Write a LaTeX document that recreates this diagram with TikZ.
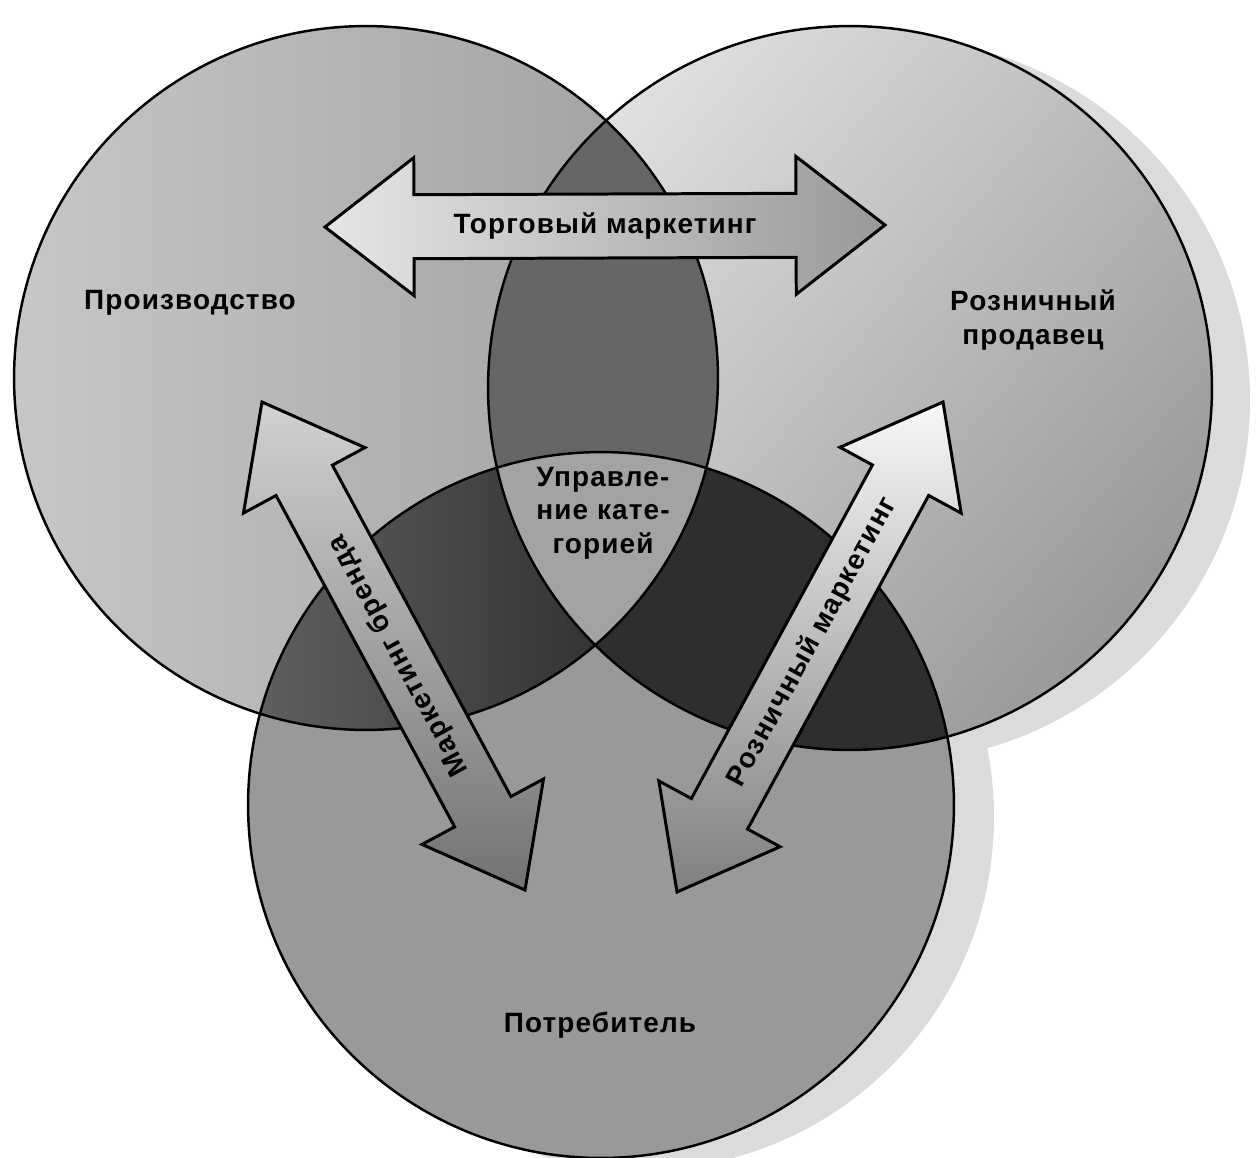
\documentclass[tikz,border=0pt]{standalone}
\usepackage{fontspec}
\setmainfont{Liberation Sans}
\newfontfamily\labfont{Liberation Sans}[LetterSpace=4]
\usetikzlibrary{calc}
\newcommand\blockarrow[3]{%
  \filldraw[#3] (#1)
    -- ($(#1)!1.78cm!(#2)!1.38cm!90:(#2)$)
    -- ($(#1)!1.78cm!(#2)!0.64cm!90:(#2)$)
    -- ($(#2)!1.78cm!(#1)!0.64cm!-90:(#1)$)
    -- ($(#2)!1.78cm!(#1)!1.38cm!-90:(#1)$)
    -- (#2)
    -- ($(#2)!1.78cm!(#1)!1.38cm!90:(#1)$)
    -- ($(#2)!1.78cm!(#1)!0.64cm!90:(#1)$)
    -- ($(#1)!1.78cm!(#2)!0.64cm!-90:(#2)$)
    -- ($(#1)!1.78cm!(#2)!1.38cm!-90:(#2)$)
    -- cycle;}
\tikzset{
  outline/.style={draw=black, line width=1.4pt},
  barrow/.style={draw=black, line width=1.7pt, line join=miter},
  lab/.style={font=\labfont\bfseries\fontsize{15.9}{19}\selectfont, text=black, inner sep=0pt, align=center},
  shadowc/.style={fill=black!14},
}
\begin{document}
\begin{tikzpicture}[x=0.02cm, y=-0.02cm]
\useasboundingbox[fill=white] (0,0) rectangle (1256,1157);
\coordinate (cL) at (366,378);
\coordinate (cR) at (850,388);
\coordinate (cB) at (601,805);
% soft shadows
\fill[shadowc] ($(cR)+(38,12)$) circle (7.24cm);
\fill[shadowc] ($(cB)+(40,12)$) circle (7.06cm);
% single regions
\shade[left color=black!22, right color=black!38] (cL) circle (7.04cm);
\shade[top color=black!12, bottom color=black!40, shading angle=50] (cR) circle (7.24cm);
\fill[black!40] (cB) circle (7.06cm);
% left & right lens
\begin{scope}
  \clip (cL) circle (7.04cm);
  \fill[black!60] (cR) circle (7.24cm);
\end{scope}
% left & bottom
\begin{scope}
  \clip (cL) circle (7.04cm);
  \clip (cB) circle (7.06cm);
  \fill[black!78] (cB) circle (7.06cm);
  \shade[left color=black!62, right color=black!80] (245,440) rectangle (600,760);
\end{scope}
% right & bottom
\begin{scope}
  \clip (cR) circle (7.24cm);
  \fill[black!82] (cB) circle (7.06cm);
\end{scope}
% triple
\begin{scope}
  \clip (cL) circle (7.04cm);
  \clip (cR) circle (7.24cm);
  \fill[black!36] (cB) circle (7.06cm);
\end{scope}
% outlines
\draw[outline] (cL) circle (7.04cm);
\draw[outline] (cR) circle (7.24cm);
\draw[outline] (cB) circle (7.06cm);
% arrows
\coordinate (tmA) at (325,227);
\coordinate (tmB) at (885,225);
\coordinate (lbA) at (262,402);
\coordinate (lbB) at (525,890);
\coordinate (rmA) at (943,402);
\coordinate (rmB) at (677,892);
\blockarrow{tmA}{tmB}{barrow, left color=black!10, middle color=black!24, right color=black!40}
\blockarrow{lbA}{lbB}{barrow, top color=black!18, middle color=black!28, bottom color=black!55}
\blockarrow{rmA}{rmB}{barrow, top color=black!3, middle color=black!24, bottom color=black!50}
% labels
\node[lab] (tm) at ($(tmA)!0.5!(tmB)$) {Торговый маркетинг};
\node[lab, rotate=118.3] (lb) at ($(lbA)!0.52!(lbB)$) {Маркетинг бренда};
\node[lab, rotate=61.5] (rm) at ($(rmA)!0.49!(rmB)$) {Розничный маркетинг};
\node[lab] (prod) at (190,303) {Производство};
\node[lab] (ret) at (1033,320) {Розничный\\продавец};
\node[lab] (cons) at (600,1025) {Потребитель};
\node[lab] (cat) at (603,513) {Управле-\\ние кате-\\горией};
\end{tikzpicture}
\end{document}
